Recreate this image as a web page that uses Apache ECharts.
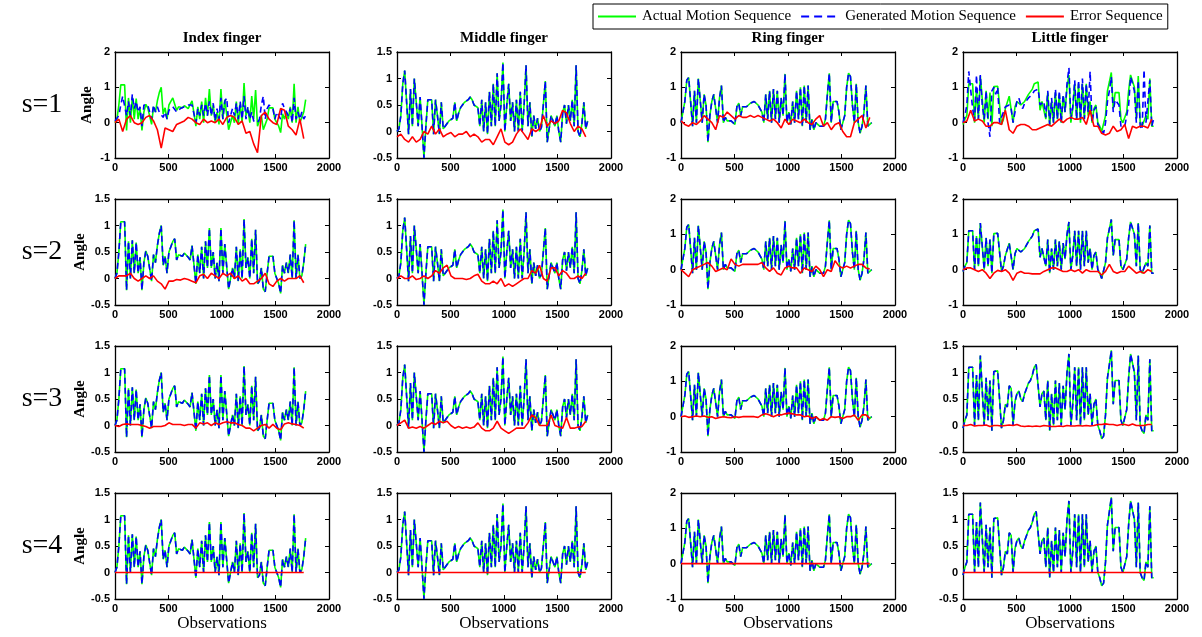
<!DOCTYPE html>
<html><head><meta charset="utf-8">
<script src="https://cdn.jsdelivr.net/npm/echarts@6/dist/echarts.min.js"></script>
<style>html,body{margin:0;padding:0;background:#fff}#c{width:1202px;height:637px}</style>
</head><body><div id="c"></div><script>
// ---------------- data ----------------
const fingers = ['Index finger', 'Middle finger', 'Ring finger', 'Little finger'];
const rowLabels = ['s=1', 's=2', 's=3', 's=4'];
const seriesNames = ['Actual Motion Sequence', 'Generated Motion Sequence', 'Error Sequence'];
const xTicks = [0, 500, 1000, 1500, 2000];
const ACT_STEP = 18;   // observation spacing of motion samples
const ERR_STEP = 36;   // observation spacing of error samples

const actualIndex = [0.0,0.1,0.5,1.07,1.07,1.07,-0.22,0.7,0.0,0.72,
 0.1,0.68,0.1,0.4,-0.22,0.3,0.52,0.42,0.4,-0.05,
 0.45,0.3,0.62,0.85,1.0,0.25,0.42,0.1,0.5,0.6,
 0.7,0.75,0.35,0.45,0.48,0.42,0.48,0.45,0.4,0.35,
 0.62,0.62,-0.1,0.45,0.1,0.6,0.0,0.7,0.2,0.95,
 0.2,0.5,0.0,0.3,-0.05,0.95,0.1,0.65,0.65,-0.2,
 -0.2,0.2,0.0,0.6,-0.05,0.55,0.0,1.12,0.2,0.4,
 0.0,0.75,0.1,0.92,-0.1,-0.05,0.2,-0.2,-0.25,0.1,
 0.42,0.42,0.42,0.1,0.0,-0.1,-0.28,0.25,0.1,0.3,
 0.1,0.45,0.0,1.1,0.0,0.45,0.0,0.05,0.3,0.65];
const actualMiddle = [0.0,0.05,0.3,0.9,1.15,1.15,-0.05,0.8,0.1,1.0,
 1.0,0.1,0.65,0.1,-0.5,0.1,0.6,0.62,0.6,-0.05,
 0.6,0.3,-0.05,0.55,0.05,0.1,0.15,0.2,0.2,0.25,
 0.55,0.2,0.35,0.45,0.5,0.55,0.55,0.6,0.65,0.6,
 0.5,0.48,0.45,0.1,0.6,0.0,0.55,-0.05,0.75,0.1,
 0.9,0.1,1.1,0.2,0.5,1.3,0.0,0.5,0.9,0.2,
 0.55,0.0,0.6,0.0,0.75,0.0,0.5,1.25,0.1,0.55,
 -0.1,0.3,0.05,0.25,0.0,0.08,0.1,0.95,-0.2,-0.2,
 0.3,0.3,0.1,0.3,0.0,-0.2,0.35,0.5,0.15,0.5,
 0.2,0.6,0.1,1.25,0.0,-0.1,0.15,0.55,0.05,0.2];
const actualRing = [0.0,0.05,0.6,1.2,1.28,1.28,-0.1,0.9,0.0,1.25,
 1.2,0.0,0.8,0.5,-0.55,0.2,0.6,0.8,0.78,0.0,
 0.7,1.05,0.0,0.15,0.05,0.1,0.05,0.0,-0.05,0.45,
 0.55,0.2,0.45,0.4,0.45,0.5,0.55,0.6,0.6,0.6,
 0.5,0.4,0.3,0.0,0.8,0.1,0.9,0.0,0.95,0.1,
 0.9,0.0,0.7,0.2,1.38,0.0,0.3,-0.05,0.6,0.0,
 0.9,0.1,1.0,-0.1,1.05,0.0,1.05,-0.2,0.1,-0.2,
 0.0,0.0,-0.1,-0.15,-0.1,0.1,0.8,1.4,0.0,0.6,
 0.6,0.6,0.3,-0.2,-0.25,0.2,1.0,1.4,1.3,0.5,
 0.0,1.1,0.0,-0.3,-0.1,0.3,1.05,-0.1,-0.05,0.0];
const actualLittle = [-0.05,0.1,0.2,1.1,1.1,1.1,0.0,0.95,0.1,1.32,
 1.3,0.0,0.9,0.1,0.85,-0.1,1.02,1.03,1.03,1.02,
 -0.05,0.1,0.4,0.35,0.75,0.7,0.0,0.45,0.6,0.65,
 0.5,0.45,0.6,0.7,0.8,0.85,0.95,1.1,1.15,1.15,
 0.35,0.6,0.65,0.1,0.85,-0.1,0.6,0.0,0.85,0.1,
 0.8,0.0,0.75,0.3,1.0,1.35,0.0,0.4,1.1,0.1,
 1.1,0.0,1.1,0.1,1.1,0.2,0.6,0.0,0.4,0.5,
 0.0,-0.1,-0.25,-0.2,0.2,0.9,1.15,1.42,0.4,0.85,
 0.85,0.85,0.1,0.0,0.0,0.3,0.9,1.35,1.35,1.0,
 0.1,1.32,0.0,-0.1,-0.15,0.2,0.1,1.25,-0.1,-0.1];

const genIndexS1 = [0.05,0.1,0.2,0.5,0.75,0.78,0.2,0.6,0.2,0.8,
 0.4,0.6,0.3,0.45,-0.1,0.5,0.5,0.5,0.45,0.1,
 0.5,0.3,0.45,0.3,0.3,0.15,0.3,0.1,0.35,0.4,
 0.45,0.45,0.3,0.35,0.4,0.4,0.45,0.5,0.5,0.45,
 0.5,0.5,0.0,0.4,0.2,0.5,0.2,0.55,0.2,0.6,
 0.2,0.55,0.05,0.4,0.1,0.7,0.1,0.6,0.7,0.0,
 0.0,0.4,0.2,0.55,0.1,0.6,0.1,0.75,0.1,0.45,
 0.1,0.3,0.05,0.1,0.0,0.1,0.5,0.75,0.1,0.4,
 0.5,0.45,0.4,0.1,0.3,0.2,0.1,0.55,0.4,0.45,
 0.2,0.4,0.0,0.7,0.1,0.3,0.1,0.3,0.1,0.2];
const genLittleS1 = [0.0,0.2,0.5,1.45,1.45,0.4,0.05,1.35,0.1,1.35,
 0.5,0.1,0.9,0.0,-0.4,0.9,1.0,0.8,1.0,0.0,
 0.0,0.3,0.45,0.45,0.5,0.4,0.0,0.3,0.6,0.7,
 0.5,0.4,0.55,0.6,0.7,0.75,0.8,0.9,0.95,0.95,
 0.5,0.55,0.6,0.15,0.9,-0.05,0.7,0.0,0.95,0.1,
 0.9,0.0,0.8,0.3,1.1,1.55,0.1,0.45,1.2,0.1,
 1.2,0.05,1.25,0.1,1.1,0.3,1.45,0.0,0.35,0.45,
 -0.05,-0.15,-0.2,-0.3,0.0,0.6,0.9,1.3,0.3,0.65,
 0.6,0.5,-0.1,-0.05,-0.1,0.2,0.5,1.3,1.3,0.9,
 0.0,1.2,-0.1,-0.2,1.5,0.0,0.0,1.2,-0.1,0.1];

const errIndexS1 = [0.0,0.1,-0.25,0.1,0.2,0.0,-0.05,0.0,0.15,0.2,
 0.05,-0.2,-0.72,-0.15,-0.2,-0.25,-0.05,0.0,0.05,0.15,
 0.1,0.0,-0.05,0.1,0.0,0.05,0.0,0.1,-0.05,0.15,
 0.2,0.15,-0.05,0.05,-0.3,-0.25,-0.6,-0.85,0.2,0.3,
 0.1,0.0,-0.05,0.4,0.35,-0.1,-0.2,-0.35,0.1,-0.45];
const errMiddleS1 = [-0.1,-0.05,-0.15,-0.2,-0.1,-0.2,-0.15,0.0,-0.05,0.1,
 -0.05,0.05,-0.1,-0.05,-0.02,-0.1,-0.05,-0.05,0.0,-0.1,
 -0.05,-0.1,-0.2,-0.15,-0.15,-0.25,-0.1,0.05,-0.2,-0.25,
 -0.2,-0.05,0.05,-0.05,-0.15,0.05,0.0,0.05,0.3,0.1,
 0.2,0.15,0.2,0.4,0.35,0.15,0.0,0.1,0.05,-0.1];
const errRingS1 = [0.05,-0.05,-0.1,0.0,-0.05,0.05,0.2,0.1,0.0,-0.2,
 0.2,0.15,0.3,0.2,0.1,0.2,0.15,0.15,0.2,0.15,
 0.2,0.15,0.1,0.05,0.1,0.0,-0.15,0.1,-0.05,0.1,
 0.05,0.0,0.1,0.0,-0.05,0.1,0.2,-0.1,0.0,-0.2,
 -0.05,0.0,-0.25,-0.4,-0.4,0.0,0.1,0.2,-0.15,0.15];
const errLittleS1 = [0.0,0.05,0.35,0.05,0.1,0.05,-0.1,-0.1,0.0,0.0,
 -0.05,0.35,-0.2,-0.3,-0.1,-0.05,-0.05,-0.1,-0.2,-0.2,
 -0.15,-0.1,-0.05,-0.1,0.0,0.1,0.0,0.1,0.15,0.1,
 0.1,0.15,-0.05,0.35,-0.1,-0.1,-0.3,-0.35,-0.3,-0.1,
 -0.25,-0.2,-0.05,-0.45,-0.1,-0.15,-0.1,-0.1,-0.15,0.1];
const errIndexS2 = [0.0,0.05,0.05,0.05,0.1,0.0,-0.05,0.0,0.05,0.0,
 0.05,-0.05,-0.1,-0.2,-0.05,-0.05,-0.02,-0.03,0.0,-0.02,
 -0.05,-0.08,0.05,0.08,0.0,0.1,0.05,0.0,0.1,0.05,
 0.1,0.0,0.05,-0.05,0.0,-0.1,-0.1,-0.05,0.0,0.1,
 -0.1,-0.15,-0.05,0.0,-0.05,0.0,0.0,0.0,0.05,-0.08];
const errMiddleS2 = [0.0,0.05,0.0,0.0,0.05,-0.02,0.0,0.05,0.0,0.05,
 0.15,0.1,0.2,0.25,0.05,0.0,0.0,0.0,-0.02,0.0,
 0.05,0.08,-0.05,-0.1,-0.1,-0.05,-0.1,0.0,-0.15,-0.1,
 -0.15,-0.1,-0.05,0.0,0.0,0.15,0.1,0.25,0.0,-0.05,
 0.2,0.2,0.05,0.15,0.1,0.0,0.0,0.05,0.0,0.1];
const errRingS2 = [0.0,-0.1,-0.2,0.0,0.05,0.1,0.15,0.2,0.1,-0.05,
 0.0,0.05,0.0,0.3,0.15,0.1,0.15,0.15,0.15,0.15,
 0.15,0.2,0.05,-0.05,0.05,-0.1,-0.15,0.05,0.1,0.05,
 0.05,-0.1,0.05,0.0,-0.05,0.1,0.0,-0.2,0.0,-0.05,
 0.25,0.1,0.05,0.1,0.05,0.1,0.15,0.15,0.05,0.02];
const errLittleS2 = [0.0,0.05,0.05,0.0,-0.05,0.0,-0.1,-0.25,-0.1,-0.02,
 -0.05,0.0,-0.1,-0.3,-0.1,-0.05,-0.1,-0.1,-0.12,-0.12,
 -0.12,-0.05,0.0,0.05,0.05,0.0,-0.05,-0.05,0.0,-0.05,
 0.0,-0.1,0.0,-0.05,-0.05,-0.05,-0.15,-0.05,0.15,-0.05,
 -0.1,-0.05,-0.05,0.1,0.0,-0.1,-0.05,-0.1,0.0,-0.05];
const errIndexS3 = [0.0,-0.02,0.02,0.03,0.02,0.02,0.02,0.0,-0.02,-0.05,
 -0.02,-0.02,-0.02,0.0,0.05,0.02,0.02,0.02,0.0,0.02,
 0.02,-0.05,0.05,0.03,0.05,0.0,0.05,0.02,0.05,0.07,
 0.05,0.05,0.02,0.0,-0.05,-0.05,-0.1,-0.05,0.0,0.02,
 -0.05,0.02,-0.05,-0.08,0.03,0.05,0.03,0.02,0.0,-0.05];
const errMiddleS3 = [0.0,0.05,0.1,-0.05,-0.03,-0.05,-0.02,-0.05,0.0,0.05,
 0.02,0.08,0.05,0.08,0.0,-0.05,-0.02,-0.05,-0.03,-0.05,
 -0.03,0.05,-0.05,-0.1,-0.1,-0.05,0.08,-0.05,-0.1,-0.15,
 -0.1,-0.05,-0.05,-0.05,0.05,0.2,0.15,0.0,0.0,0.0,
 0.2,0.0,-0.03,-0.05,0.15,-0.05,-0.05,-0.03,-0.02,0.08];
const errRingS3 = [0.0,0.02,-0.02,0.0,0.02,0.0,0.02,-0.02,0.0,-0.05,
 -0.02,0.0,-0.02,-0.03,0.0,-0.02,0.0,0.0,0.0,0.0,
 -0.02,0.05,0.08,0.05,0.0,0.05,0.05,0.08,0.1,0.08,
 0.05,0.05,0.0,0.02,-0.05,0.0,-0.1,-0.05,-0.1,0.0,
 -0.02,0.0,-0.05,0.0,0.0,0.05,-0.1,0.05,0.05,-0.05];
const errLittleS3 = [0.0,0.0,0.02,-0.01,0.0,0.0,0.01,-0.02,0.0,0.0,
 -0.01,0.0,0.01,0.0,0.02,-0.01,-0.02,-0.01,-0.02,-0.01,
 -0.02,0.0,-0.01,-0.02,-0.02,-0.01,-0.02,0.0,-0.01,-0.01,
 0.0,-0.01,0.0,-0.01,0.0,0.02,0.02,0.03,0.02,0.02,
 0.0,0.02,0.02,0.0,0.03,0.0,0.0,0.0,0.02,0.02];
const errS4 = [0,0,0,0,0,0,0,0,0,0, 0,0,0,0,0,0,0,0,0,0,
 0,0,0,0,0,0,0,0,0,0, 0,0,0,0,0,0,0,0,0,0, 0,0,0,0,0,0,0,0,0,0];

// y-axis [min, max, interval] per row (s) and column (finger)
const yMin = [[-1,-0.5,-1,-1],[-0.5,-0.5,-1,-1],[-0.5,-0.5,-1,-0.5],[-0.5,-0.5,-1,-0.5]];
const yMax = [[2,1.5,2,2],[1.5,1.5,2,2],[1.5,1.5,2,1.5],[1.5,1.5,2,1.5]];
const yStep = [[1,0.5,1,1],[0.5,0.5,1,1],[0.5,0.5,1,0.5],[0.5,0.5,1,0.5]];

// ---------------- table built from the arrays ----------------
const actuals = [actualIndex, actualMiddle, actualRing, actualLittle];
const generated = [
  [genIndexS1, actualMiddle, actualRing, genLittleS1],
  actuals, actuals, actuals
];
const errors = [
  [errIndexS1, errMiddleS1, errRingS1, errLittleS1],
  [errIndexS2, errMiddleS2, errRingS2, errLittleS2],
  [errIndexS3, errMiddleS3, errRingS3, errLittleS3],
  [errS4, errS4, errS4, errS4]
];

// ---------------- layout ----------------
const colLeft = [115, 397, 681, 963];
const rowTop = [52, 199, 346, 493];
const W = 214, H = 106;
const BLACK = '#000';
const plain = v => String(v);
const tickFont = {color: BLACK, fontFamily: 'Liberation Sans, Arial', fontWeight: 'bold', fontSize: 11, formatter: plain};

const grids = [], xAxes = [], yAxes = [], series = [], graphics = [];
const axisLine = {show: true, onZero: false, lineStyle: {color: BLACK, width: 1.3}};
const axisTick = {show: true, inside: true, length: 4, lineStyle: {color: BLACK, width: 1}};

for (let r = 0; r < 4; r++) {
  for (let c = 0; c < 4; c++) {
    const k = grids.length;
    grids.push({left: colLeft[c], top: rowTop[r], width: W, height: H, containLabel: false});
    const xb = {type: 'value', gridIndex: k, position: 'bottom', min: xTicks[0], max: xTicks[xTicks.length-1],
      interval: xTicks[1]-xTicks[0], axisLine, axisTick, splitLine: {show: false},
      axisLabel: Object.assign({margin: 4}, tickFont)};
    if (r === 3) {
      xb.name = 'Observations'; xb.nameLocation = 'middle'; xb.nameGap = 16;
      xb.nameTextStyle = {color: BLACK, fontFamily: 'Liberation Serif, Times New Roman', fontSize: 17};
    }
    xAxes.push(xb);
    xAxes.push({type: 'value', gridIndex: k, position: 'top', min: xTicks[0], max: xTicks[xTicks.length-1],
      interval: xTicks[1]-xTicks[0], axisLine, axisTick, splitLine: {show: false}, axisLabel: {show: false}});
    const yl = {type: 'value', gridIndex: k, position: 'left', min: yMin[r][c], max: yMax[r][c], interval: yStep[r][c],
      axisLine, axisTick, splitLine: {show: false}, axisLabel: Object.assign({margin: 5}, tickFont)};
    if (c === 0) {
      yl.name = 'Angle'; yl.nameLocation = 'middle'; yl.nameGap = 20;
      yl.nameTextStyle = {color: BLACK, fontFamily: 'Liberation Serif, Times New Roman', fontWeight: 'bold', fontSize: 15};
    }
    yAxes.push(yl);
    yAxes.push({type: 'value', gridIndex: k, position: 'right', min: yMin[r][c], max: yMax[r][c], interval: yStep[r][c],
      axisLine, axisTick, splitLine: {show: false}, axisLabel: {show: false}});

    const base = {type: 'line', xAxisIndex: 2*k, yAxisIndex: 2*k, symbol: 'none', showSymbol: false,
      animation: false, silent: true, clip: true};
    series.push(Object.assign({}, base, {name: seriesNames[0], color: '#00ff00', z: 2,
      lineStyle: {color: '#00ff00', width: 1.6},
      data: actuals[c].map((v, i) => [i*ACT_STEP, v])}));
    series.push(Object.assign({}, base, {name: seriesNames[1], color: '#0000ff', z: 3,
      lineStyle: {color: '#0000ff', width: 1.6, type: [6, 4]},
      data: generated[r][c].map((v, i) => [i*ACT_STEP, v])}));
    series.push(Object.assign({}, base, {name: seriesNames[2], color: '#ff0000', z: 4,
      lineStyle: {color: '#ff0000', width: 1.6},
      data: errors[r][c].map((v, i) => [i*ERR_STEP, v])}));

    if (r === 0) {
      graphics.push({type: 'text', style: {text: fingers[c], x: colLeft[c] + W/2, y: rowTop[0] - 14,
        textAlign: 'center', textVerticalAlign: 'middle', fill: BLACK,
        font: 'bold 15px "Liberation Serif", "Times New Roman", serif'}});
    }
  }
  graphics.push({type: 'text', style: {text: rowLabels[r], x: 42, y: rowTop[r] + H/2,
    textAlign: 'center', textVerticalAlign: 'middle', fill: BLACK,
    font: '28px "Liberation Serif", "Times New Roman", serif'}});
}

const solidIcon = 'path://M0,0h38v2h-38z';
const dashedIcon = 'path://M0,0h8v2h-8z M13,0h8v2h-8z M26,0h8v2h-8z M38,0h0v2h0z';
const chart = echarts.init(document.getElementById('c'), null, {renderer: 'canvas'});
chart.setOption({
  animation: false,
  backgroundColor: '#fff',
  grid: grids, xAxis: xAxes, yAxis: yAxes, series,
  legend: {
    data: [{name: seriesNames[0], icon: solidIcon}, {name: seriesNames[1], icon: dashedIcon},
           {name: seriesNames[2], icon: solidIcon}],
    left: 593, top: 4, itemWidth: 38, itemHeight: 2, itemGap: 10,
    padding: [5, 5], borderColor: BLACK, borderWidth: 1, backgroundColor: '#fff',
    textStyle: {color: BLACK, fontFamily: 'Liberation Serif, Times New Roman', fontSize: 15, padding: [0, 0, 0, 1]}},
  graphic: graphics
});
</script></body></html>
